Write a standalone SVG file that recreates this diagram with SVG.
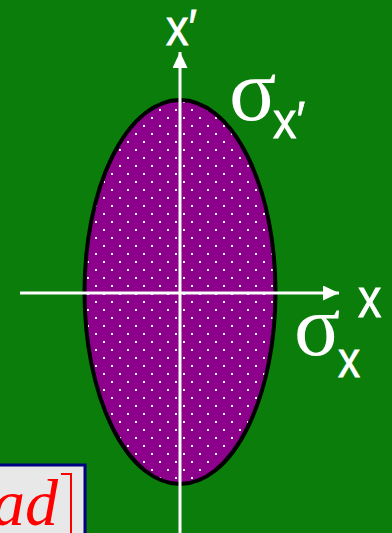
<svg xmlns="http://www.w3.org/2000/svg" width="392" height="533" viewBox="0 0 392 533">
  <style>
    .sans { font-family: "Liberation Sans", Arial, "DejaVu Sans", sans-serif; fill: #ffffff; stroke: #ffffff; stroke-width: 0.8; }
    .serif { font-family: "Liberation Serif", "Times New Roman", serif; fill: #ffffff; }
    .axis { stroke: #ffffff; stroke-width: 3; fill: none; }
  </style>
  <defs>
    <pattern id="dots" patternUnits="userSpaceOnUse" x="15" y="13" width="16" height="16">
      <rect x="0" y="0" width="2" height="2" fill="#ffffff"/>
      <rect x="8" y="8" width="2" height="2" fill="#ffffff"/>
    </pattern>
    <marker id="arrow" viewBox="0 0 16 15" refX="16" refY="7.5" markerWidth="16" markerHeight="15" markerUnits="userSpaceOnUse" orient="auto">
      <path d="M0,0 L16,7.5 L0,15 Z" fill="#ffffff"/>
    </marker>
  </defs>

  <rect id="background" x="0" y="0" width="392" height="533" fill="#0a7d0a"/>

  <g id="beam-ellipse">
    <ellipse cx="180" cy="292" rx="95.5" ry="192" fill="#8c008c"/>
    <ellipse cx="180" cy="292" rx="95.5" ry="192" fill="url(#dots)"/>
    <ellipse cx="180" cy="292" rx="95.5" ry="192" fill="none" stroke="#000000" stroke-width="4"/>
  </g>

  <g id="connectors">
    <line class="axis" x1="20" y1="293" x2="339" y2="293" marker-end="url(#arrow)"/>
    <line class="axis" x1="180" y1="533" x2="180" y2="52" marker-end="url(#arrow)"/>
  </g>

  <g id="label-x">
    <text class="sans" transform="translate(358,317) scale(0.85,1)" font-size="55">x</text>
  </g>
  <g id="label-xprime">
    <text class="sans" transform="translate(166,45) scale(0.9,1)" font-size="50">x′</text>
  </g>
  <g id="label-sigma-xprime">
    <text class="serif" x="229" y="120" font-size="88">σ</text>
    <text class="sans" transform="translate(273,138) scale(0.9,1)" font-size="52">x′</text>
  </g>
  <g id="label-sigma-x">
    <text class="serif" x="294" y="355" font-size="86">σ</text>
    <text class="sans" transform="translate(338,377) scale(0.85,1)" font-size="52">x</text>
  </g>

  <g id="formula-box">
    <rect x="-10" y="465" width="95" height="80" fill="#e8e8e8" stroke="#000080" stroke-width="3"/>
    <text x="58" y="525" font-family="'Liberation Serif', 'Times New Roman', serif" font-style="italic" font-size="66" fill="#ff0000" text-anchor="end">ad</text>
    <path d="M61,474 L71,474 L71,533" fill="none" stroke="#ff0000" stroke-width="2"/>
  </g>
</svg>
